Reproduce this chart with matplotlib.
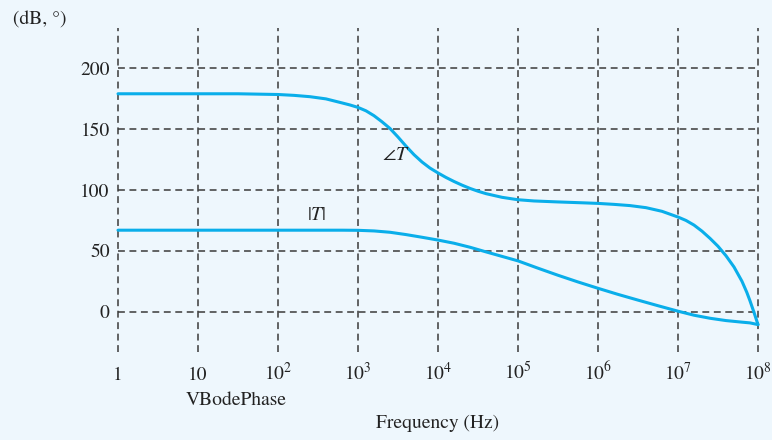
import matplotlib
matplotlib.use("Agg")
import matplotlib.pyplot as plt
from matplotlib.ticker import NullLocator

# ---- data (frequency as decade exponents) ----
phase_exp = [0, 0.5, 1.0, 1.5, 2.0, 2.2, 2.4, 2.6, 2.8, 2.9, 3.0, 3.1, 3.2,
             3.3, 3.4, 3.5, 3.6, 3.7, 3.8, 3.9, 4.0, 4.1, 4.2, 4.3, 4.4,
             4.5, 4.6, 4.8, 5.0, 5.2, 5.5, 5.8, 6.0, 6.2, 6.4, 6.6, 6.8,
             7.0, 7.1, 7.2, 7.3, 7.4, 7.5, 7.6, 7.7, 7.8, 7.86, 7.9, 7.95,
             8.0]
phase = [179.0, 179.0, 179.0, 179.0, 178.4, 177.7, 176.6, 174.8, 171.5,
         169.8, 167.8, 165.0, 161.0, 156.0, 150.5, 143.5, 136.0, 129.0,
         123.0, 118.0, 114.0, 110.3, 107.0, 104.0, 101.3, 99.0, 97.0, 94.0,
         92.0, 91.0, 90.2, 89.5, 89.0, 88.2, 87.2, 85.5, 82.5, 77.8, 75.0,
         71.2, 66.2, 60.3, 53.8, 46.0, 36.8, 25.0, 16.0, 9.0, -0.5, -10.5]

mag_exp = [0, 1, 2, 2.8, 3.0, 3.2, 3.4, 3.6, 3.8, 4.0, 4.2, 4.4, 4.6, 4.8,
           5.0, 5.25, 5.5, 5.75, 6.0, 6.25, 6.5, 6.75, 7.0, 7.2, 7.4, 7.6,
           7.8, 7.9, 8.0]
mag = [67, 67, 67, 67, 66.9, 66.4, 65.3, 63.4, 61.2, 58.9, 56.3, 53.0,
       49.2, 45.5, 41.8, 35.8, 30.0, 24.5, 19.3, 14.3, 9.6, 5.0, 0.5, -2.8,
       -5.3, -7.2, -8.5, -9.1, -10.5]

xticks = [1, 10, 1e2, 1e3, 1e4, 1e5, 1e6, 1e7, 1e8]
xticklabels = ["1", "10", "$10^{2}$", "$10^{3}$", "$10^{4}$", "$10^{5}$",
               "$10^{6}$", "$10^{7}$", "$10^{8}$"]
yticks = [0, 50, 100, 150, 200]

freq_p = [10 ** e for e in phase_exp]
freq_m = [10 ** e for e in mag_exp]

bg = "#eef7fd"
curve = "#0aaeea"
gridc = "#3a3a3a"
txt = "#222222"

plt.rcParams["font.family"] = ["STIXGeneral", "DejaVu Serif"]
plt.rcParams["mathtext.fontset"] = "stix"
plt.rcParams["font.size"] = 14

fig = plt.figure(figsize=(7.72, 4.40), dpi=100, facecolor=bg)
ax = fig.add_axes([118 / 772, 1 - 352 / 440, 640 / 772, 324 / 440])
ax.set_facecolor(bg)
ax.set_xscale("log")
ax.set_xlim(1, 1e8)
ax.set_ylim(-33, 233)
for s in ax.spines.values():
    s.set_visible(False)

for xv in xticks:
    ax.axvline(xv, color=gridc, lw=1.1, ls=(0, (4.5, 3)), clip_on=False, zorder=1)
for yv in yticks:
    ax.axhline(yv, color=gridc, lw=1.1, ls=(0, (4.5, 3)), clip_on=False, zorder=1)

ax.plot(freq_p, phase, color=curve, lw=2.2, zorder=3, clip_on=False,
        solid_capstyle="round", solid_joinstyle="round")
ax.plot(freq_m, mag, color=curve, lw=2.2, zorder=3, clip_on=False,
        solid_capstyle="round", solid_joinstyle="round")

ax.xaxis.set_minor_locator(NullLocator())
ax.set_xticks(xticks)
ax.set_xticklabels(xticklabels)
ax.set_yticks(yticks)
ax.tick_params(axis="both", length=0, colors=txt, labelsize=14)
ax.tick_params(axis="x", pad=20)
ax.tick_params(axis="y", pad=6)
for lab in ax.get_xticklabels():
    lab.set_verticalalignment("baseline")

ax.text(2990, 128, r"$\angle T$", fontsize=14, ha="center", va="center",
        color=txt)
ax.text(300, 79, r"$|T|$", fontsize=14, ha="center", va="center",
        color=txt)

fig.text(236 / 772, 1 - 400 / 440, "VBodePhase", ha="center", va="center",
         fontsize=14, color=txt)
fig.text(438 / 772, 1 - 423 / 440, "Frequency (Hz)", ha="center", va="center",
         fontsize=14, color=txt)
fig.text(13 / 772, 1 - 20 / 440, "(dB, °)", ha="left", va="center",
         fontsize=14, color=txt)

fig.savefig("out.png", dpi=100, facecolor=bg)
